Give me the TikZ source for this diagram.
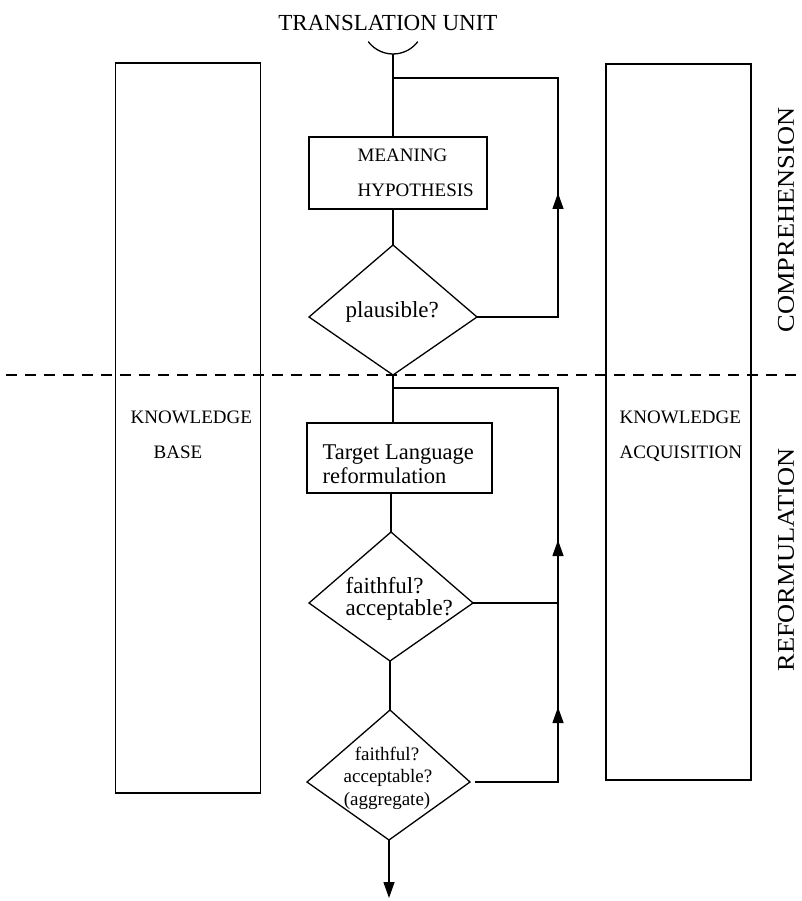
\documentclass[tikz,border=0pt]{standalone}
\usepackage{fontspec}
\setmainfont{Liberation Serif}
\usetikzlibrary{arrows.meta}
\newcommand\setfs[1]{\fontsize{#1}{#1}\selectfont}
\begin{document}
\begin{tikzpicture}[x=1pt,y=-1pt,line width=1.3pt,
  box/.style={draw,rectangle,inner sep=0pt},
  lbl/.style={inner sep=0pt,anchor=base west},
  clbl/.style={inner sep=0pt,anchor=base},
  tip/.style={-{Triangle[length=16pt,width=11pt]}},
  side/.style={inner sep=0pt,rotate=90,font=\setfs{24}}]
\useasboundingbox (0,0) rectangle (801,901);

% input
\node[clbl,font=\setfs{23}] (tu) at (388,31) {TRANSLATION UNIT};
\coordinate (tuc) at (393,23);
\draw (tuc) ++(143:31) arc (143:37:31);
\coordinate (s0) at (393,54);

% knowledge stores at the sides
\node[box,minimum width=145pt,minimum height=730pt] (kb) at (188,428) {};
\node[lbl,font=\setfs{19}] (kb1) at (130,423) {KNOWLEDGE};
\node[lbl,font=\setfs{19}] (kb2) at (153,458) {BASE};
\node[box,minimum width=145pt,minimum height=716pt] (ka) at (678.5,422) {};
\node[lbl,font=\setfs{19}] (ka1) at (619,423) {KNOWLEDGE};
\node[lbl,font=\setfs{19}] (ka2) at (619,458) {ACQUISITION};

% comprehension stage
\node[box,minimum width=178pt,minimum height=72pt] (mh) at (398,173) {};
\node[lbl,font=\setfs{19}] (mh1) at (357,162) {MEANING};
\node[lbl,font=\setfs{19}] (mh2) at (357,197) {HYPOTHESIS};

\coordinate (d1t) at (393,245);
\coordinate (d1r) at (477,317);
\coordinate (d1b) at (393,375);
\coordinate (d1l) at (309,317);
\draw (d1t) -- (d1r) -- (d1b) -- (d1l) -- cycle;
\node[lbl,font=\setfs{23}] (pl) at (345,317) {plausible?};

\draw (s0) -- (mh.north -| s0);
\draw (mh.south -| d1t) -- (d1t);

\coordinate (j1) at (393,78);
\coordinate (k1) at (558,78);
\coordinate (c1) at (558,317);
\coordinate (a1) at (558,193);
\draw (d1r) -- (c1) -- (k1) -- (j1);
\draw[tip] (c1) -- (a1);

% stage boundary
\coordinate (dl) at (6,375);
\coordinate (dr) at (801,375);
\draw[dash pattern=on 11pt off 8pt] (dl) -- (dr);

% reformulation stage
\node[box,minimum width=185pt,minimum height=70pt] (tl) at (399.5,458) {};
\node[lbl,font=\setfs{22.5}] (tl1) at (322,459) {Target Language};
\node[lbl,font=\setfs{22.5}] (tl2) at (322,483) {reformulation};
\draw (d1b) -- (tl.north -| d1b);

\coordinate (d2t) at (391,532);
\coordinate (d2r) at (473,603);
\coordinate (d2b) at (390,661);
\coordinate (d2l) at (309,603);
\draw (d2t) -- (d2r) -- (d2b) -- (d2l) -- cycle;
\node[lbl,font=\setfs{23}] (fa1) at (345,593) {faithful?};
\node[lbl,font=\setfs{23}] (fa2) at (345,615) {acceptable?};
\draw (tl.south -| d2t) -- (d2t);

\coordinate (d3t) at (390,710);
\coordinate (d3r) at (470,782);
\coordinate (d3b) at (389,840);
\coordinate (d3l) at (307,782);
\draw (d3t) -- (d3r) -- (d3b) -- (d3l) -- cycle;
\node[clbl,font=\setfs{19}] (ag1) at (387,760) {faithful?};
\node[clbl,font=\setfs{19}] (ag2) at (388,782) {acceptable?};
\node[clbl,font=\setfs{19}] (ag3) at (387,805) {(aggregate)};
\draw (d2b) -- (d3t);

\coordinate (out) at (389,898);
\draw[tip] (d3b) -- (out);

\coordinate (j2) at (393,388);
\coordinate (k2) at (558,388);
\coordinate (c2) at (558,603);
\coordinate (c3) at (558,782);
\coordinate (e3) at (475,782);
\coordinate (a2) at (558,540);
\coordinate (a3) at (558,707);
\draw (e3) -- (c3) -- (k2) -- (j2);
\draw (d2r) -- (c2);
\draw[tip] (c2) -- (a2);
\draw[tip] (c3) -- (a3);

% stage names
\node[side] (cmp) at (786,220) {\scalebox{1.1}[1]{COMPREHENSION}};
\node[side] (ref) at (786,560) {\scalebox{1.1}[1]{REFORMULATION}};
\end{tikzpicture}
\end{document}
